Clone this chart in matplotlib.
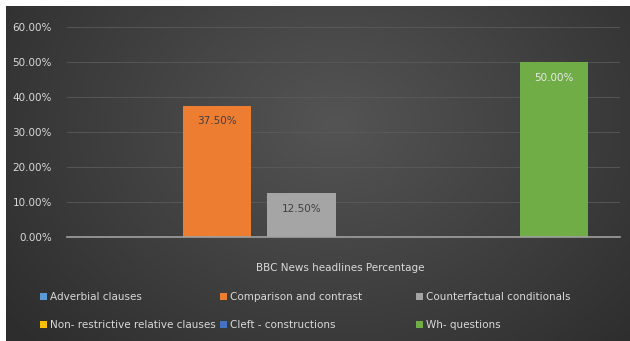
import numpy as np
import matplotlib.pyplot as plt
from matplotlib.patches import Patch

# data
categories = ['Adverbial clauses', 'Comparison and contrast', 'Counterfactual conditionals',
              'Non- restrictive relative clauses', 'Cleft - constructions', 'Wh- questions']
values = [0.0, 0.375, 0.125, 0.0, 0.0, 0.50]
colors = ['#5b9bd5', '#ed7d31', '#a5a5a5', '#ffc000', '#4472c4', '#70ad47']
label_colors = ['#404040', '#404040', '#404040', '#404040', '#404040', '#e8e8e8']
xlabel = 'BBC News headlines Percentage'
yticks = [0, 0.1, 0.2, 0.3, 0.4, 0.5, 0.6]

W, H = 630, 341
fig = plt.figure(figsize=(W / 100, H / 100), dpi=100)
fig.patch.set_facecolor('white')

# dark radial gradient background (Excel style), with white strip top/left
bg = fig.add_axes([6 / W, 0, 1 - 6 / W, 1 - 6 / H])
yy, xx = np.mgrid[0:200, 0:400]
cx, cy = 210, 70
d = np.sqrt(((xx - cx) / 260.0) ** 2 + ((yy - cy) / 190.0) ** 2)
d = np.clip(d, 0, 1)
shade = 0.33 - 0.15 * d
img = np.dstack([shade, shade, shade])
bg.imshow(img, aspect='auto', extent=[0, 1, 0, 1], origin='upper')
bg.axis('off')

# plot area
left, right = 67 / W, 620 / W
bottom, top = 1 - 237 / H, 1 - 27 / H
ax = fig.add_axes([left, bottom, right - left, top - bottom])
ax.set_facecolor('none')

x = np.arange(len(values)) - 2.5
bars = ax.bar(x, values, width=0.81, color=colors, edgecolor='none', zorder=3)
for xi, v, lc in zip(x, values, label_colors):
    if v > 0:
        ax.text(xi, v - 0.045, f'{v * 100:.2f}%', ha='center', va='center',
                fontsize=7.5, color=lc, zorder=4)

ax.set_xlim(-3.29, 3.29)
ax.set_ylim(0, 0.6)
ax.set_yticks(yticks)
ax.set_yticklabels([f'{t * 100:.2f}%' for t in yticks], color='#d9d9d9', fontsize=7.5)
ax.set_xticks([])
ax.tick_params(axis='y', length=0, pad=11)
ax.grid(axis='y', color='#5a5a5a', linewidth=0.6, zorder=0)
for s in ['top', 'right', 'left']:
    ax.spines[s].set_visible(False)
ax.spines['bottom'].set_color('#a0a0a0')
ax.spines['bottom'].set_linewidth(1.2)
ax.spines['bottom'].set_zorder(5)

fig.text(340 / W, 1 - 268 / H, xlabel, ha='center', va='center', color='#d9d9d9', fontsize=7.5)

# legend: three columns, two rows, entries run across the rows
col_x = [40, 220, 416]
for c in range(3):
    idx = [c, c + 3]
    handles = [Patch(facecolor=colors[i], edgecolor='none') for i in idx]
    labels = [categories[i] for i in idx]
    leg = fig.legend(handles, labels, loc='center left',
                     bbox_to_anchor=(col_x[c] / W, 1 - 311 / H),
                     frameon=False, fontsize=7.5, labelcolor='#d9d9d9',
                     handlelength=0.7, handleheight=0.7, handletextpad=0.3,
                     labelspacing=1.7, borderpad=0, borderaxespad=0)

fig.savefig('out.png', dpi=100)
